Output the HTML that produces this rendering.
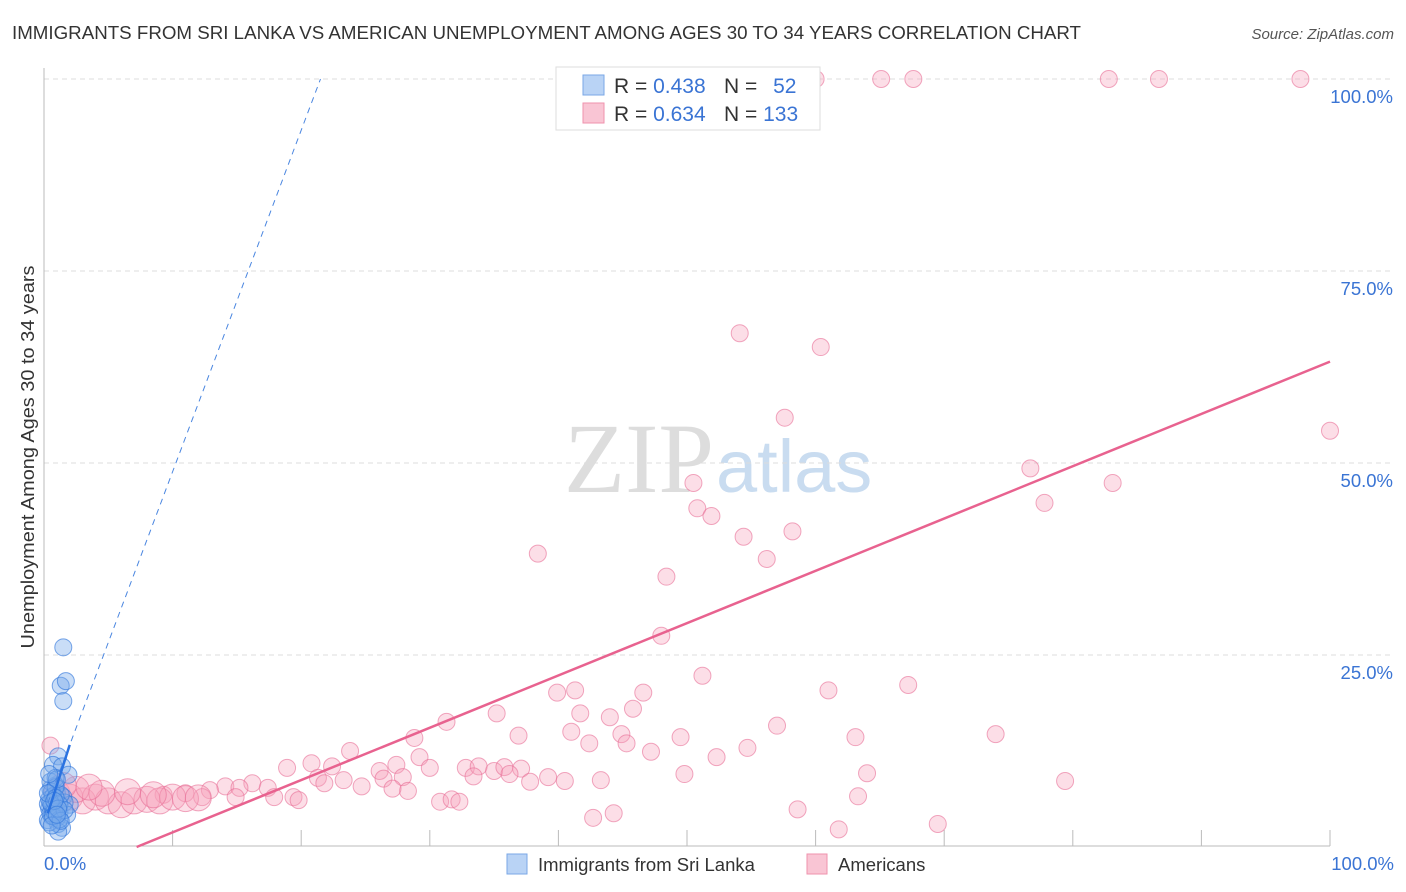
<!DOCTYPE html>
<html><head><meta charset="utf-8"><style>
body{margin:0;background:#fff;font-family:"Liberation Sans",sans-serif;}
svg{display:block}
</style></head><body>
<svg id="chart" width="1406" height="892">
<text x="12" y="39" font-size="18" fill="#333" textLength="1069" lengthAdjust="spacingAndGlyphs">IMMIGRANTS FROM SRI LANKA VS AMERICAN UNEMPLOYMENT AMONG AGES 30 TO 34 YEARS CORRELATION CHART</text>
<text x="1394" y="39" font-size="15" font-style="italic" fill="#555" text-anchor="end">Source: ZipAtlas.com</text>
<text x="714" y="492" font-size="100" font-family="Liberation Serif,serif" fill="#ddd" text-anchor="end">ZIP</text>
<text x="716" y="492" font-size="74" fill="#c9dcf0">atlas</text>
<g id="grid"></g>
<g id="axes"></g>
<g id="marks"></g>
<text transform="translate(34,457) rotate(-90)" font-size="18" fill="#333" text-anchor="middle" textLength="383" lengthAdjust="spacingAndGlyphs">Unemployment Among Ages 30 to 34 years</text>
<g>
<rect x="556" y="67" width="264" height="63" fill="#fff" stroke="#ddd"/>
<rect x="583" y="75" width="21" height="20" fill="#b9d3f5" stroke="#7aa7e6"/>
<rect x="583" y="103" width="21" height="20" fill="#f9c5d4" stroke="#ef92ad"/>
<text x="614" y="93" font-size="21" fill="#333">R = <tspan fill="#3a74d4">0.438</tspan></text>
<text x="724" y="93" font-size="21" fill="#333">N = <tspan fill="#3a74d4" dx="10">52</tspan></text>
<text x="614" y="121" font-size="21" fill="#333">R = <tspan fill="#3a74d4">0.634</tspan></text>
<text x="724" y="121" font-size="21" fill="#333">N = <tspan fill="#3a74d4">133</tspan></text>
</g>
<g>
<rect x="507" y="854" width="20" height="20" fill="#b9d3f5" stroke="#7aa7e6"/>
<text x="538" y="871" font-size="18.5" fill="#333">Immigrants from Sri Lanka</text>
<rect x="807" y="854" width="20" height="20" fill="#f9c5d4" stroke="#ef92ad"/>
<text x="838" y="871" font-size="18.5" fill="#333">Americans</text>
</g>
</svg>
<script>
const yTicks=[25,50,75,100];
const yTickLabels=["25.0%","50.0%","75.0%","100.0%"];
const xTicks=[10,20,30,40,50,60,70,80,90,100];
const pinkX=[65.1,67.6,82.8,86.7,97.7,59.0,59.7,60.0,54.1,60.4,57.6,100,76.7,83.1,50.5,77.8,50.8,51.9,54.4,58.2,38.4,56.2,48.4,48.0,51.2,67.2,61.0,39.9,41.3,46.6,35.2,41.7,44,45.8,31.3,57,41,36.9,44.9,45.3,49.5,63.1,74,42.4,28.8,23.8,47.2,54.7,52.3,29.2,27.4,22.4,20.8,18.9,30,32.8,33.8,35,35.8,37.1,33.4,36.2,39.2,49.8,64,43.3,26.1,27.9,26.4,23.3,21.3,21.8,24.7,16.2,14.1,37.8,40.5,79.4,28.3,27.1,17.4,15.2,12.9,11,9.3,19.4,19.8,17.9,14.9,12.3,30.8,31.7,32.3,63.3,58.6,44.3,42.7,61.8,69.5,0.5,1,2,3,4,5,6,7,8,9,10,11,12,2.5,4.5,6.5,8.5,1.5,3.5];
const pinkY=[100,100,100,100,100,100,100,100,66.9,65.1,55.9,54.2,49.3,47.4,47.4,44.8,44.1,43.1,40.4,41.1,38.2,37.5,35.2,27.5,22.3,21.1,20.4,20.1,20.4,20.1,17.4,17.4,16.9,18,16.3,15.8,15,14.5,14.7,13.5,14.3,14.3,14.7,13.5,14.2,12.5,12.4,12.9,11.7,11.7,10.7,10.5,10.9,10.3,10.3,10.3,10.5,9.9,10.4,10.2,9.2,9.5,9.1,9.5,9.6,8.7,9.9,9.1,8.9,8.7,9,8.3,7.9,8.3,7.9,8.5,8.6,8.6,7.3,7.6,7.7,7.7,7.4,7,6.8,6.5,6.1,6.5,6.5,6.5,5.9,6.2,5.9,6.6,4.9,4.4,3.8,2.3,3.0,13.2,7,6.5,6,6.5,6,5.5,6,6.2,6,6.5,6.3,6.4,7.5,7,7.2,6.8,8,7.8];
const blueX=[1.5,1.3,1.7,1.5,1.1,0.7,1.4,1.9,0.9,0.5,1,1.5,2,0.4,0.8,1.2,0.6,1.6,0.3,1.1,0.7,1.3,0.5,0.9,1.8,0.4,1.0,0.6,1.2,0.8,0.3,1.4,0.5,0.7,0.9,1.1,0.4,0.6,0.8,1.0,1.2,0.5,0.7,0.3,0.9,1.6,1.3,0.6,0.4,1.1,0.8,1.0];
const blueY=[26,21,21.6,19,11.8,10.7,10.5,9.4,8,7.5,7,6.5,5.5,5,6,4.5,4,5.8,3.5,3,5.2,6.8,8.5,9,4.2,6.2,3.8,7.2,5.5,4.8,5.6,2.5,4.4,6.6,7.8,2,3.2,5.4,4.6,8.8,3.6,5.8,4,7,6.4,4.8,3.4,2.8,9.5,5,6,4.2];
const pinkTrend=[7.2,100,0,63.2];
const blueTrend=[0,21.5,4.4,100];
const NS="http://www.w3.org/2000/svg";
const X0=44,X1=1330,Y0=847,Y1=79;
function sx(v){return X0+(X1-X0)*v/100;}
function sy(v){return Y0-(Y0-Y1)*v/100;}
function mk(t,a,p){const e=document.createElementNS(NS,t);for(const k in a)e.setAttribute(k,a[k]);p.appendChild(e);return e;}
const grid=document.getElementById('grid'),axes=document.getElementById('axes'),marks=document.getElementById('marks');
yTicks.forEach((t,i)=>{
 const l=mk('line',{x1:X0,x2:X1+64,y1:sy(t),y2:sy(t),stroke:'#ddd','stroke-dasharray':'5,4'},grid);
 
 
 const tx=mk('text',{x:1393,y:sy(t)+24,'font-size':18.5,fill:'#3a74d4','text-anchor':'end'},axes);
 tx.textContent=yTickLabels[i];
 
 
});
let a=mk('line',{x1:X0,x2:X0,y1:68,y2:846,stroke:'#bbb'},axes);

a=mk('line',{x1:X0,x2:X1,y1:846,y2:846,stroke:'#bbb'},axes);

xTicks.forEach(t=>{const l=mk('line',{x1:sx(t),x2:sx(t),y1:830,y2:846,stroke:'#bbb'},axes);
 
 });
let t0=mk('text',{x:44,y:870,'font-size':18.5,fill:'#3a74d4'},axes);t0.textContent='0.0%';

t0=mk('text',{x:1394,y:870,'font-size':18.5,fill:'#3a74d4','text-anchor':'end'},axes);t0.textContent='100.0%';

pinkX.forEach((x,i)=>{const r=(x<13&&i>99)?13:8.5;
 const c=mk('circle',{cx:sx(x),cy:sy(pinkY[i]),r:r,fill:'rgba(246,160,186,0.35)',stroke:'rgba(232,110,150,0.6)'},marks);
 
 });
blueX.forEach((x,i)=>{
 const c=mk('circle',{cx:sx(x),cy:sy(blueY[i]),r:8.5,fill:'rgba(120,170,235,0.4)',stroke:'rgba(50,120,220,0.65)'},marks);
 
 });
let tl=mk('line',{x1:sx(pinkTrend[0]),y1:sy(pinkTrend[2]),x2:sx(pinkTrend[1]),y2:sy(pinkTrend[3]),stroke:'#e8628f','stroke-width':2.5},marks);

tl=mk('line',{x1:sx(blueTrend[0]),y1:sy(blueTrend[2]),x2:sx(blueTrend[1]),y2:sy(blueTrend[3]),stroke:'#4a86e0','stroke-width':1,'stroke-dasharray':'6,5'},marks);

const bs=blueTrend[2]+(blueTrend[3]-blueTrend[2])*2/blueTrend[1];
tl=mk('line',{x1:sx(0.3),y1:sy(blueTrend[2]),x2:sx(2),y2:sy(bs),stroke:'#2a72e0','stroke-width':2.5},marks);

</script>
</body></html>
